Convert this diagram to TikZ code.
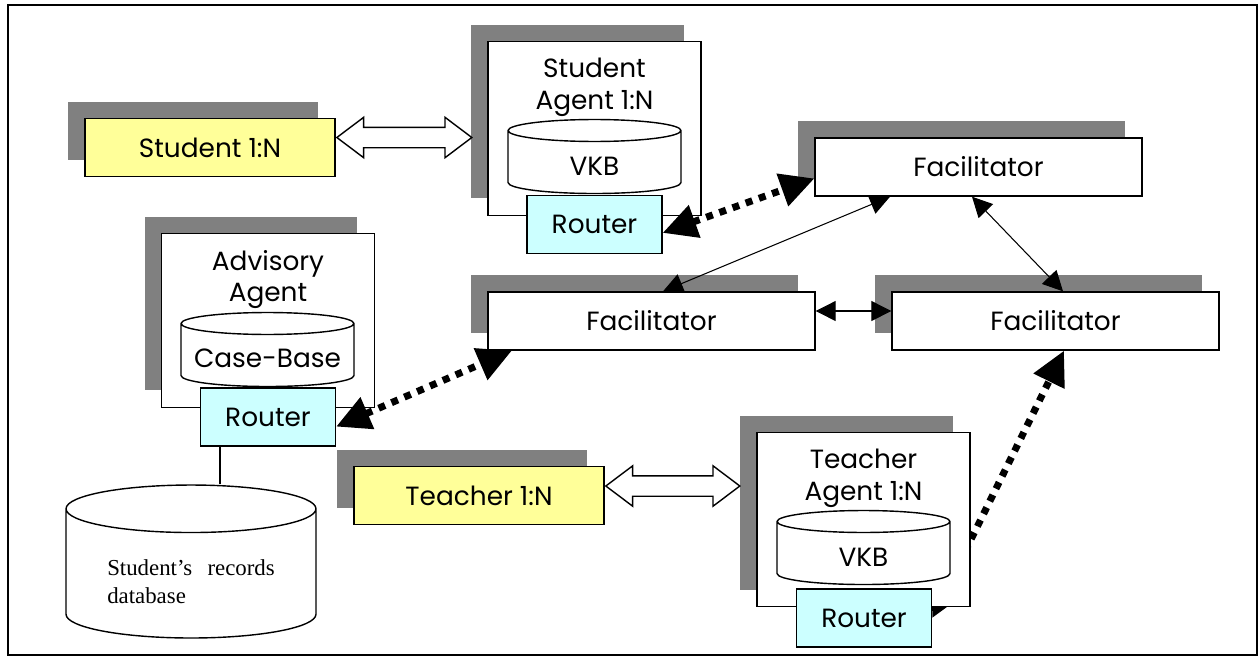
\documentclass[tikz,border=0pt]{standalone}
\usepackage{fontspec}
\setmainfont{Poppins}
\newfontfamily\recfont{Liberation Serif}
\usetikzlibrary{shapes.geometric,shapes.arrows,arrows.meta,shadows,positioning,calc,backgrounds}
\definecolor{shade}{HTML}{808080}
\definecolor{userfill}{HTML}{FFFF99}
\definecolor{routerfill}{HTML}{CCFFFF}

\begin{document}
\begin{tikzpicture}[x=0.02cm,y=-0.02cm,font=\fontsize{15}{18}\selectfont,
  shadowed/.style={drop shadow={shadow xshift=-0.34cm,shadow yshift=0.34cm,
                   fill=shade,opacity=1}},
  box/.style={draw,line width=0.8pt,fill=white,inner sep=0pt,minimum height=1.16cm},
  user/.style={box,shadowed,fill=userfill,minimum width=5cm},
  facil/.style={box,shadowed,minimum width=6.54cm},
  agent/.style={box,shadowed,minimum width=4.26cm,minimum height=3.48cm},
  title/.style={align=center,anchor=north,yshift=-0.22cm},
  router/.style={box,fill=routerfill,minimum width=2.7cm},
  store/.style={draw,line width=0.8pt,fill=white,cylinder,shape border rotate=90,
                anchor=shape center,aspect=0.127,text width=3.46cm,align=center,
                text height=0.51cm,minimum width=3.46cm,minimum height=1.48cm,
                inner sep=0pt},
  bigdbl/.style={draw,line width=0.8pt,fill=white,double arrow,anchor=west,
                 double arrow head extend=0.2cm,double arrow tip angle=74,
                 inner xsep=0pt,inner ysep=0.19cm},
  link/.style={line width=0.6pt,
               {Triangle[length=0.4cm,width=0.4cm]}-{Triangle[length=0.4cm,width=0.4cm]}},
  msg/.style={line width=0.14cm,dash pattern=on 0.14cm off 0.14cm,
              {Triangle[length=0.68cm,width=0.66cm]}-{Triangle[length=0.68cm,width=0.66cm]}}]
\useasboundingbox (0,0) rectangle (1260,657);
\draw[line width=1pt] (8,5) rectangle (1257,655);

% users
\node[user] (stud) at (210,147.5) {Student 1:N};
\node[user] (tchr) at (479,495.5) {Teacher 1:N};

% agents with their knowledge bases and routers
\node[agent,label={[title]north:Student\\Agent 1:N}] (sagent) at (594.5,128.5) {};
\node[store] (skb) at (594.5,156.5) {VKB};
\node[router] (srouter) at (594.5,224.5) {Router};

\node[agent,label={[title]north:Advisory\\Agent}] (aagent) at (268,320.5) {};
\node[store] (akb) at (267.5,349.5) {Case-Base};
\node[router] (arouter) at (268,417) {Router};

\node[agent,label={[title]north:Teacher\\Agent 1:N}] (tagent) at (863.5,519.5) {};
\node[store] (tkb) at (863.5,547.5) {VKB};
\node[router] (trouter) at (864,618) {Router};

% records store
\node[store,aspect=0.19,text width=5cm,text height=,minimum width=5cm,
      minimum height=3.06cm,font=\recfont\fontsize{13}{16}\selectfont] (db) at (191,561.5)
  {\raisebox{-0.2cm}[\height][\depth]{\begin{tabular}{@{}l@{}}Student’s\ \ records\\
   database\end{tabular}}};
\coordinate (tap) at ($(arouter.south)+(-48,0)$);
\draw[line width=0.6pt] (tap) -- (tap |- db.north);

% facilitators
\node[facil] (fac1) at (978.5,167) {Facilitator};
\node[facil] (fac2) at (651.5,321) {Facilitator};
\node[facil] (fac3) at (1055.5,321) {Facilitator};

% user <-> agent
\node[bigdbl,minimum height=2.7cm] (sarrow) at ($(stud.east)+(0,-10)$) {};
\node[bigdbl,minimum height=2.68cm] (tarrow) at ($(tchr.east)+(0,-9.5)$) {};

\draw[link] ($(fac2.east)+(0,-10)$) -- ($(fac3.west)+(0,-10)$);
\draw[link] ($(fac1.south)+(-6.5,0)$) -- ($(fac3.north)+(7.5,0)$);
\draw[link] ($(fac1.south)+(-88.5,0)$) -- ($(fac2.north)+(11.5,0)$);

\draw[msg] (srouter.-7) -- (fac1.184);
\draw[msg] (arouter.-8) -- (fac2.192);
\begin{scope}[on background layer]
  \draw[msg] (trouter.east) -- ($(fac3.south)+(8.5,0)$);
\end{scope}
\end{tikzpicture}
\end{document}
